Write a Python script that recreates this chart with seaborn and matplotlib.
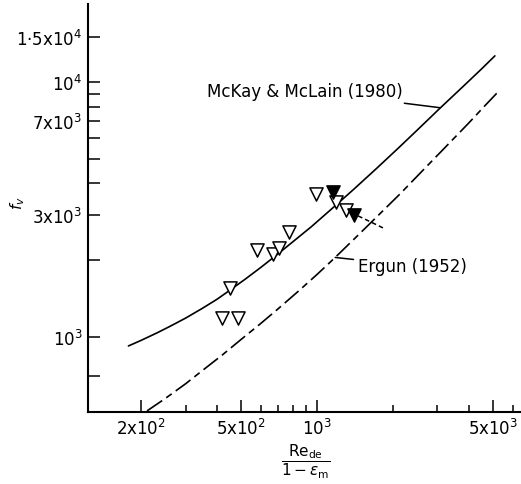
import matplotlib
matplotlib.use("Agg")
import matplotlib.pyplot as plt
from matplotlib.ticker import FixedLocator, FixedFormatter, NullFormatter
import seaborn as sns

# McKay & McLain (1980) correlation curve
mckay_x = [178, 200, 230, 260, 300, 350, 400, 450, 520, 600, 700, 800, 950,
           1180, 1400, 1730, 2100, 2500, 3080, 3800, 4500, 5080]
mckay_y = [922, 970, 1035, 1100, 1185, 1295, 1405, 1525, 1690, 1880, 2120,
           2360, 2710, 3270, 3800, 4600, 5500, 6480, 7900, 9600, 11250, 12650]

# Ergun (1952) correlation curve
ergun_x = [211, 250, 300, 354, 420, 500, 594, 700, 841, 1000, 1179, 1450,
           1750, 2135, 2600, 3271, 4000, 4600, 5228]
ergun_y = [513, 575, 655, 745, 850, 980, 1125, 1290, 1510, 1760, 2050, 2500,
           3000, 3640, 4450, 5620, 6900, 8000, 9138]

# measured points (open and filled symbols)
open_x = [452, 420, 486, 578, 669, 706, 774, 991, 1190, 1303]
open_y = [1556, 1187, 1187, 2193, 2114, 2234, 2581, 3639, 3382, 3147]
filled_x = [1157, 1402]
filled_y = [3705, 3006]

# short dashed leader from the last filled point
lead_x = [1455, 1862]
lead_y = [2982, 2652]

# axis ticks
x_major = [200, 500, 1000, 5000]
x_major_labels = ["2x10$^2$", "5x10$^2$", "10$^3$", "5x10$^3$"]
x_minor = [300, 400, 600, 700, 800, 900, 2000, 3000, 4000, 6000]
y_major = [1000, 3000, 7000, 10000, 15000]
y_major_labels = ["10$^3$", "3x10$^3$", "7x10$^3$", "10$^4$", "1·5x10$^4$"]
y_minor = [700, 2000, 4000, 5000, 6000, 8000, 9000]

sns.set_style("ticks")
plt.rcParams["font.family"] = ["DejaVu Sans"]
plt.rcParams["mathtext.fontset"] = "dejavusans"
plt.rcParams["text.color"] = "black"
plt.rcParams["axes.labelcolor"] = "black"

fig = plt.figure(figsize=(5.21, 4.85), dpi=100)
ax = fig.add_axes([88 / 521, 72 / 485, 432 / 521, 408 / 485])
ax.set_xscale("log")
ax.set_yscale("log")

sns.lineplot(x=mckay_x, y=mckay_y, ax=ax, color="black", lw=1.2,
             sort=False, estimator=None)
sns.lineplot(x=ergun_x, y=ergun_y, ax=ax, color="black", lw=1.2,
             sort=False, estimator=None, linestyle=(0, (11, 3, 4, 3)))
sns.lineplot(x=lead_x, y=lead_y, ax=ax, color="black", lw=1.1,
             sort=False, estimator=None, linestyle=(0, (3, 2)))

sns.scatterplot(x=open_x, y=open_y, ax=ax, marker="v", s=90,
                facecolor="white", edgecolor="black", linewidth=1.1, zorder=3)
sns.scatterplot(x=filled_x, y=filled_y, ax=ax, marker="v", s=90,
                facecolor="black", edgecolor="black", linewidth=1.1, zorder=4)

ax.set_xlim(123, 6390)
ax.set_ylim(508, 20200)

ax.xaxis.set_major_locator(FixedLocator(x_major))
ax.xaxis.set_major_formatter(FixedFormatter(x_major_labels))
ax.xaxis.set_minor_locator(FixedLocator(x_minor))
ax.xaxis.set_minor_formatter(NullFormatter())
ax.yaxis.set_major_locator(FixedLocator(y_major))
ax.yaxis.set_major_formatter(FixedFormatter(y_major_labels))
ax.yaxis.set_minor_locator(FixedLocator(y_minor))
ax.yaxis.set_minor_formatter(NullFormatter())

ax.tick_params(axis="both", which="both", direction="in", width=1.1,
               colors="black", labelsize=12)
ax.tick_params(axis="y", which="both", length=8.5, pad=4)
ax.tick_params(axis="x", which="major", length=8.5, pad=4)
ax.tick_params(axis="x", which="minor", length=5)

sns.despine(ax=ax)
for side in ("left", "bottom"):
    ax.spines[side].set_linewidth(1.5)
    ax.spines[side].set_color("black")

ax.set_ylabel("$f_v$", fontsize=11, rotation=90)
ax.yaxis.label.set_va("center")
ax.yaxis.set_label_coords(-0.164, 0.515)

fig.text(306 / 521, 1 - 462 / 485,
         r"$\dfrac{\mathrm{Re}_{\mathrm{de}}}{1-\epsilon_{\mathrm{m}}}$",
         ha="center", va="center", fontsize=11)

ax.annotate("McKay & McLain (1980)", xy=(3076, 7920), xytext=(2193, 9228),
            ha="right", va="center", fontsize=12,
            arrowprops=dict(arrowstyle="-", color="black", lw=1.1,
                            shrinkA=1, shrinkB=0))
ax.annotate("Ergun (1952)", xy=(1179, 2050), xytext=(1455, 1898),
            ha="left", va="center", fontsize=12,
            arrowprops=dict(arrowstyle="-", color="black", lw=1.1,
                            shrinkA=1, shrinkB=0))

fig.savefig("out.png", dpi=100, facecolor="white")
